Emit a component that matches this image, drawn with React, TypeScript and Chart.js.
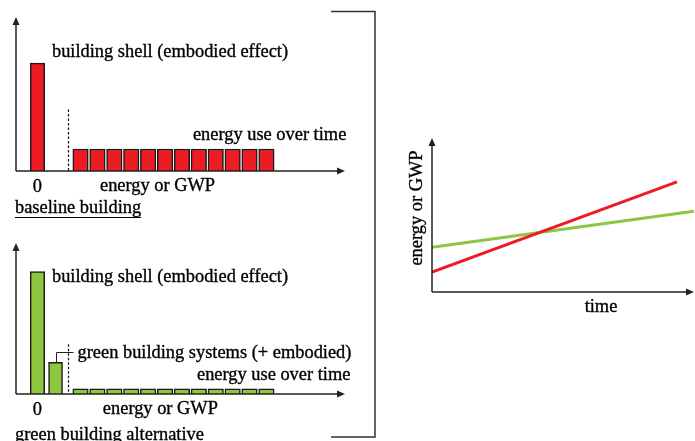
import { useEffect, useRef } from "react";
import { Chart, registerables } from "chart.js";

Chart.register(...registerables);

// ---------------- data ----------------
const operationYears = ["1", "2", "3", "4", "5", "6", "7", "8", "9", "10", "11", "12"];
const baselineShell = 7.0;
const baselineOperation = [1.43, 1.43, 1.43, 1.43, 1.43, 1.43, 1.43, 1.43, 1.43, 1.43, 1.43, 1.43];
const greenShell = 8.1;
const greenSystems = 2.1;
const greenOperation = [0.35, 0.35, 0.35, 0.35, 0.35, 0.35, 0.35, 0.35, 0.35, 0.35, 0.35, 0.35];
const xTickLabels = ["0"];

const baselineTrendTime = [0, 9.35];
const baselineTrend = [1.3, 7.15];
const greenTrendTime = [0, 10];
const greenTrend = [2.9, 5.25];

const shellText = "building shell (embodied effect)";
const operationText = "energy use over time";
const systemsText = "green building systems (+ embodied)";
const axisText = "energy or GWP";
const timeText = "time";
const baselineTitle = "baseline building";
const greenTitle = "green building alternative";

// ---------------- layout / style ----------------
const W = 695;
const H = 441;
const FONT = '18.4px "Liberation Serif", "Times New Roman", serif';
const INK = "#000000";
const AXIS = "#222222";
const RED = "#ED1C24";
const GREEN = "#8DC63F";
const BAR_BORDER = "#1a1a1a";
const SHELL_X = 0;
const SYSTEMS_X = 1.07;
const DASH_X = 1.82;
const OP_START = 2.55;
const X_MIN = -1.27;
const X_MAX = 18.2;

interface PanelSpec {
  color: string;
  shell: number;
  systems: number | null;
  operation: number[];
  padding: { left: number; right: number; top: number; bottom: number };
  title: string;
  titleDy: number;
  dashTop: number;
  shellDy: number;
  opTextX: number;
  axisTextX: number;
}

const panels: PanelSpec[] = [
  {
    color: RED,
    shell: baselineShell,
    systems: null,
    operation: baselineOperation,
    padding: { left: 16, right: W - 345, top: 17, bottom: H - 171 },
    title: baselineTitle,
    titleDy: 42,
    dashTop: 4.0,
    shellDy: -6,
    opTextX: 9.2,
    axisTextX: 3.7,
  },
  {
    color: GREEN,
    shell: greenShell,
    systems: greenSystems,
    operation: greenOperation,
    padding: { left: 16, right: W - 345, top: 243, bottom: H - 394 },
    title: greenTitle,
    titleDy: 46,
    dashTop: 3.3,
    shellDy: 10,
    opTextX: 9.44,
    axisTextX: 3.87,
  },
];

function line(ctx: CanvasRenderingContext2D, x1: number, y1: number, x2: number, y2: number) {
  ctx.beginPath();
  ctx.moveTo(x1, y1);
  ctx.lineTo(x2, y2);
  ctx.stroke();
}

function text(ctx: CanvasRenderingContext2D, s: string, x: number, y: number) {
  ctx.fillText(s, x, y);
  ctx.save();
  ctx.strokeStyle = ctx.fillStyle as string;
  ctx.lineWidth = 0.35;
  ctx.strokeText(s, x, y);
  ctx.restore();
}

function arrowHead(ctx: CanvasRenderingContext2D, x: number, y: number, dir: "up" | "right") {
  const len = 8;
  const half = 3.5;
  ctx.beginPath();
  if (dir === "up") {
    ctx.moveTo(x, y);
    ctx.lineTo(x - half, y + len);
    ctx.lineTo(x + half, y + len);
  } else {
    ctx.moveTo(x, y);
    ctx.lineTo(x - len, y - half);
    ctx.lineTo(x - len, y + half);
  }
  ctx.closePath();
  ctx.fill();
}

function drawAxes(ctx: CanvasRenderingContext2D, a: { left: number; right: number; top: number; bottom: number }) {
  ctx.strokeStyle = AXIS;
  ctx.fillStyle = AXIS;
  ctx.lineWidth = 1.5;
  line(ctx, a.left, a.bottom, a.right - 6, a.bottom);
  line(ctx, a.left, a.bottom, a.left, a.top + 6);
  arrowHead(ctx, a.right, a.bottom, "right");
  arrowHead(ctx, a.left, a.top, "up");
}

function panelPlugin(spec: PanelSpec) {
  return {
    id: "panelDecor",
    afterDatasetsDraw(chart: any) {
      const { ctx, chartArea: a } = chart;
      const xs = chart.scales.x;
      const ys = chart.scales.y;
      ctx.save();
      drawAxes(ctx, a);

      // dashed separator between construction and operation
      const dx = Math.round(xs.getPixelForValue(DASH_X)) + 0.5;
      ctx.strokeStyle = "#111111";
      ctx.lineWidth = 1.2;
      ctx.setLineDash([2.5, 2]);
      line(ctx, dx, ys.getPixelForValue(spec.dashTop), dx, a.bottom);
      ctx.setLineDash([]);

      ctx.font = FONT;
      ctx.fillStyle = INK;
      ctx.textBaseline = "alphabetic";

      // shell label
      ctx.textAlign = "left";
      text(ctx, shellText, xs.getPixelForValue(SHELL_X) + 14.5, ys.getPixelForValue(spec.shell) + spec.shellDy);

      // operation label
      text(ctx, operationText, xs.getPixelForValue(spec.opTextX), ys.getPixelForValue(spec.operation[0]) - 9);

      // systems connector + label
      if (spec.systems !== null) {
        const cx = Math.round(xs.getPixelForValue(SYSTEMS_X)) + 0.5;
        const top = ys.getPixelForValue(spec.systems);
        const ly = Math.round(top - 10) + 0.5;
        ctx.strokeStyle = AXIS;
        ctx.lineWidth = 1;
        ctx.beginPath();
        ctx.moveTo(cx, top);
        ctx.lineTo(cx, ly);
        ctx.lineTo(dx + 5, ly);
        ctx.stroke();
        text(ctx, systemsText, dx + 9, ly + 5);
      }

      // x tick "0"
      ctx.textAlign = "center";
      text(ctx, xTickLabels[0], xs.getPixelForValue(SHELL_X), a.bottom + 21);

      // axis caption
      ctx.textAlign = "left";
      text(ctx, axisText, xs.getPixelForValue(spec.axisTextX), a.bottom + 20);

      // panel title, underlined
      const tx = 15;
      const ty = a.bottom + spec.titleDy;
      text(ctx, spec.title, tx, ty);
      const tw = ctx.measureText(spec.title).width;
      ctx.strokeStyle = INK;
      ctx.lineWidth = 1.2;
      line(ctx, tx, Math.round(ty + 4) + 0.5, tx + tw, Math.round(ty + 4) + 0.5);
      ctx.restore();
    },
  };
}

function panelConfig(spec: PanelSpec): any {
  const datasets: any[] = [
    {
      label: "building shell",
      data: [{ x: SHELL_X, y: spec.shell }],
      backgroundColor: spec.color,
      borderColor: BAR_BORDER,
      borderWidth: 1.5,
      barThickness: 14.5,
      grouped: false,
    },
  ];
  if (spec.systems !== null) {
    datasets.push({
      label: "green building systems",
      data: [{ x: SYSTEMS_X, y: spec.systems }],
      backgroundColor: spec.color,
      borderColor: BAR_BORDER,
      borderWidth: 1.5,
      barThickness: 14,
      grouped: false,
    });
  }
  datasets.push({
    label: "energy use over time",
    data: operationYears.map((_, i) => ({ x: OP_START + i, y: spec.operation[i] })),
    backgroundColor: spec.color,
    borderColor: BAR_BORDER,
    borderWidth: 1.5,
    barThickness: 15.5,
    grouped: false,
  });
  return {
    type: "bar",
    data: { datasets },
    options: {
      responsive: false,
      animation: false,
      events: [],
      layout: { padding: spec.padding },
      plugins: { legend: { display: false }, tooltip: { enabled: false }, title: { display: false } },
      scales: {
        x: { type: "linear", min: X_MIN, max: X_MAX, offset: false, display: false },
        y: { type: "linear", min: 0, max: 10, display: false },
      },
    },
    plugins: [panelPlugin(spec)],
  };
}

const trendPlugin = {
  id: "trendDecor",
  afterDatasetsDraw(chart: any) {
    const { ctx, chartArea: a } = chart;
    const xs = chart.scales.x;
    ctx.save();
    drawAxes(ctx, a);
    ctx.font = FONT;
    ctx.fillStyle = INK;
    ctx.textAlign = "center";
    ctx.textBaseline = "alphabetic";
    text(ctx, timeText, xs.getPixelForValue(6.45), a.bottom + 20);
    ctx.save();
    ctx.translate(a.left - 15, a.top + 70);
    ctx.rotate(-Math.PI / 2);
    ctx.textBaseline = "middle";
    text(ctx, axisText, 0, 0);
    ctx.restore();

    // bracket grouping the two left panels
    ctx.strokeStyle = "#333333";
    ctx.lineWidth = 1.5;
    ctx.beginPath();
    ctx.moveTo(331, 11.5);
    ctx.lineTo(375, 11.5);
    ctx.lineTo(375, 437);
    ctx.lineTo(331, 437);
    ctx.stroke();
    ctx.restore();
  },
};

function trendConfig(): any {
  return {
    type: "line",
    data: {
      datasets: [
        {
          label: "baseline building",
          data: baselineTrendTime.map((t, i) => ({ x: t, y: baselineTrend[i] })),
          borderColor: RED,
          borderWidth: 3,
          pointRadius: 0,
          tension: 0,
        },
        {
          label: "green building alternative",
          data: greenTrendTime.map((t, i) => ({ x: t, y: greenTrend[i] })),
          borderColor: GREEN,
          borderWidth: 3,
          pointRadius: 0,
          tension: 0,
        },
      ],
    },
    options: {
      responsive: false,
      animation: false,
      events: [],
      layout: { padding: { left: 432, right: 1, top: 138, bottom: H - 292 } },
      plugins: { legend: { display: false }, tooltip: { enabled: false }, title: { display: false } },
      scales: {
        x: { type: "linear", min: 0, max: 10, display: false },
        y: { type: "linear", min: 0, max: 10, display: false },
      },
    },
    plugins: [trendPlugin],
  };
}

function ChartCanvas({ make }: { make: () => any }) {
  const ref = useRef<HTMLCanvasElement | null>(null);
  useEffect(() => {
    if (!ref.current) return;
    const chart = new Chart(ref.current, make());
    return () => chart.destroy();
  }, [make]);
  return (
    <canvas
      ref={ref}
      width={W}
      height={H}
      style={{ position: "absolute", left: 0, top: 0, width: W, height: H }}
    />
  );
}

const makeTop = () => panelConfig(panels[0]);
const makeBottom = () => panelConfig(panels[1]);

export default function App() {
  return (
    <div style={{ position: "fixed", left: 0, top: 0, width: W, height: H, background: "#ffffff", overflow: "hidden" }}>
      <ChartCanvas make={makeTop} />
      <ChartCanvas make={makeBottom} />
      <ChartCanvas make={trendConfig} />
    </div>
  );
}
